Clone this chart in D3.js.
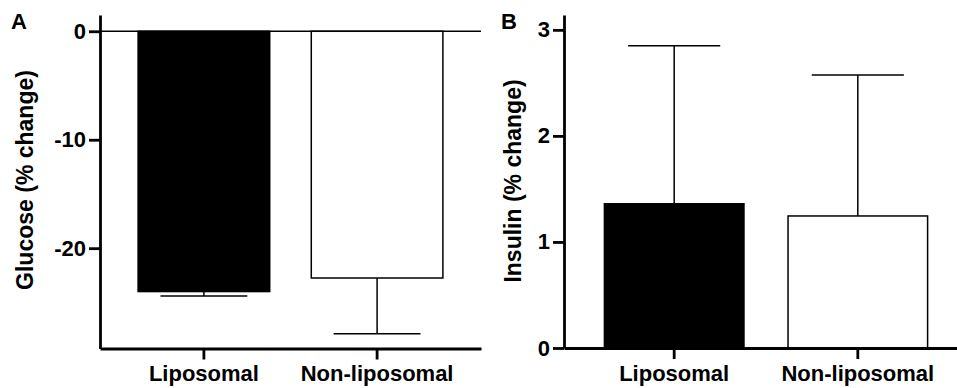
<!DOCTYPE html>
<html>
<head>
<meta charset="utf-8">
<script src="https://cdn.jsdelivr.net/npm/d3@7"></script>
<style>
  html, body { margin: 0; padding: 0; background: #fff; }
  svg { display: block; }
  text { font-family: "Liberation Sans", Arial, Helvetica, sans-serif; font-weight: bold; fill: #000; }
</style>
</head>
<body>
<svg id="chart" width="957" height="388"></svg>
<script>
// ---- data ----
const categories = ["Liposomal", "Non-liposomal"];
const barFills = ["#000000", "#ffffff"];

const glucoseMean = [-24.0, -22.75];
const glucoseErr = [0.4, 5.15];     // SD drawn downward
const glucoseTicks = [0, -10, -20];

const insulinMean = [1.36, 1.245];
const insulinErr = [1.49, 1.33];    // SD drawn upward
const insulinTicks = [0, 1, 2, 3];

const svg = d3.select("#chart");
const AXW = 2.8, BARW = 1.5;

function panel(opts) {
  const g = svg.append("g");
  const x = d3.scaleBand().domain(categories).range(opts.xRange)
    .paddingInner(0.24).paddingOuter(0.22);
  const y = d3.scaleLinear().domain(opts.yDomain).range(opts.yRange);
  const bw = x.bandwidth();
  const capW = bw * 0.66;

  // bars
  categories.forEach((c, i) => {
    const v = opts.mean[i];
    const y0 = y(0), y1 = y(v);
    g.append("rect")
      .attr("x", x(c)).attr("width", bw)
      .attr("y", Math.min(y0, y1)).attr("height", Math.abs(y1 - y0))
      .attr("fill", barFills[i]).attr("stroke", "#000").attr("stroke-width", BARW);
    // error bar
    const e = v < 0 ? v - opts.err[i] : v + opts.err[i];
    const cx = x(c) + bw / 2;
    g.append("line").attr("x1", cx).attr("x2", cx).attr("y1", y(v)).attr("y2", y(e))
      .attr("stroke", "#000").attr("stroke-width", BARW);
    g.append("line").attr("x1", cx - capW / 2).attr("x2", cx + capW / 2).attr("y1", y(e)).attr("y2", y(e))
      .attr("stroke", "#000").attr("stroke-width", BARW);
  });

  // zero line (panel A)
  if (opts.zeroLine) {
    g.append("line").attr("x1", opts.xRange[0]).attr("x2", opts.xRange[1])
      .attr("y1", y(0)).attr("y2", y(0)).attr("stroke", "#000").attr("stroke-width", BARW);
  }

  // y axis
  const ya = g.append("g").attr("transform", `translate(${opts.xRange[0]},0)`)
    .call(d3.axisLeft(y).tickValues(opts.ticks).tickFormat(d => String(d))
      .tickSize(11).tickSizeOuter(0).tickPadding(3));
  ya.select(".domain").style("stroke-width", AXW + "px").style("stroke", "#000");
  ya.selectAll(".tick line").style("stroke-width", AXW + "px").style("stroke", "#000");
  ya.selectAll(".tick text").style("font-size", "22px").style("fill", "#000");

  // x axis
  const xa = g.append("g").attr("transform", `translate(0,${opts.yRange[0]})`)
    .call(d3.axisBottom(x).tickSize(11).tickSizeOuter(0).tickPadding(6));
  xa.select(".domain").style("stroke-width", AXW + "px").style("stroke", "#000");
  xa.selectAll(".tick line").style("stroke-width", AXW + "px").style("stroke", "#000");
  xa.selectAll(".tick text").style("font-size", "22px").style("fill", "#000");

  // axis title
  g.append("text")
    .attr("transform", `translate(${opts.titleX},${opts.titleY}) rotate(-90)`)
    .attr("text-anchor", "middle").attr("dy", "0.36em")
    .style("font-size", "23px").text(opts.title);

  // panel letter
  g.append("text").attr("x", opts.letterX).attr("y", 29)
    .style("font-size", "22px").text(opts.letter);
}

panel({
  xRange: [100, 481], yRange: [348.5, 15], yDomain: [-29.25, 1.5],
  mean: glucoseMean, err: glucoseErr, ticks: glucoseTicks,
  zeroLine: true, title: "Glucose (% change)", titleX: 25, titleY: 180,
  letter: "A", letterX: 11
});

panel({
  xRange: [564, 968], yRange: [348, 15], yDomain: [0, 3.14],
  mean: insulinMean, err: insulinErr, ticks: insulinTicks,
  zeroLine: false, title: "Insulin (% change)", titleX: 513, titleY: 181,
  letter: "B", letterX: 501
});
</script>
</body>
</html>
